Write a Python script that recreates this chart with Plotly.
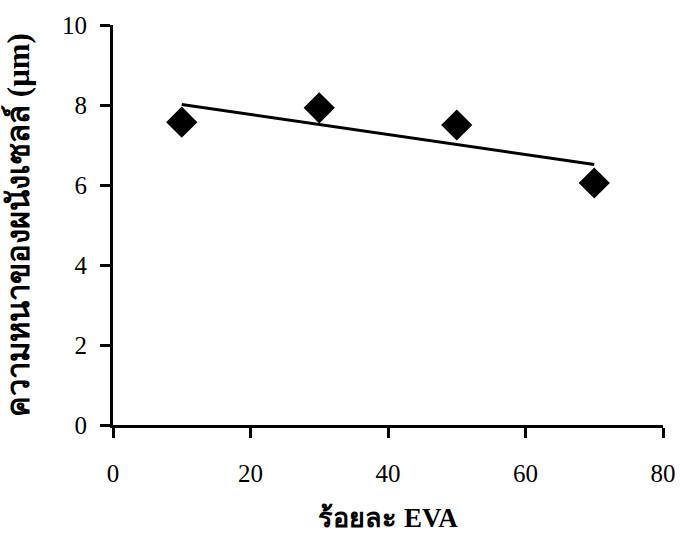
import numpy as np
import plotly.graph_objects as go

eva_percent = [10, 30, 50, 70]
wall_thickness = [7.57, 7.93, 7.5, 6.05]
x_ticks = [0, 20, 40, 60, 80]
y_ticks = [0, 2, 4, 6, 8, 10]

slope, intercept = np.polyfit(eva_percent, wall_thickness, 1)
trend_x = [min(eva_percent), max(eva_percent)]
trend_y = [slope * v + intercept for v in trend_x]

fig = go.Figure()
fig.add_trace(go.Scatter(x=trend_x, y=trend_y, mode="lines",
                         line=dict(color="black", width=3), showlegend=False,
                         cliponaxis=False))
fig.add_trace(go.Scatter(x=eva_percent, y=wall_thickness, mode="markers",
                         marker=dict(symbol="diamond", size=24, color="black"),
                         showlegend=False, cliponaxis=False))

serif = "Liberation Serif, DejaVu Serif, serif"
fig.update_layout(
    width=680, height=533,
    margin=dict(l=113, r=17, t=25, b=108, autoexpand=False),
    paper_bgcolor="white", plot_bgcolor="white",
    font=dict(family=serif, color="black", size=25),
)
fig.update_xaxes(range=[0, 80], tickvals=x_ticks, showgrid=False, zeroline=False,
                 showline=True, linecolor="black", linewidth=3, automargin=False,
                 ticks="outside", ticklen=10, tickwidth=3, tickcolor="black",
                 ticklabelstandoff=14,
                 title=dict(text="<b>ร้อยละ EVA</b>", font=dict(size=27), standoff=25))
fig.update_yaxes(range=[0, 10], tickvals=y_ticks, showgrid=False, zeroline=False,
                 showline=True, linecolor="black", linewidth=3, automargin=False,
                 ticks="outside", ticklen=10, tickwidth=3, tickcolor="black",
                 ticklabelstandoff=8,
                 title=dict(text="<b>ความหนาของผนังเซลล์ (μm)</b>", font=dict(size=31), standoff=24))

fig.write_html("out.html")
